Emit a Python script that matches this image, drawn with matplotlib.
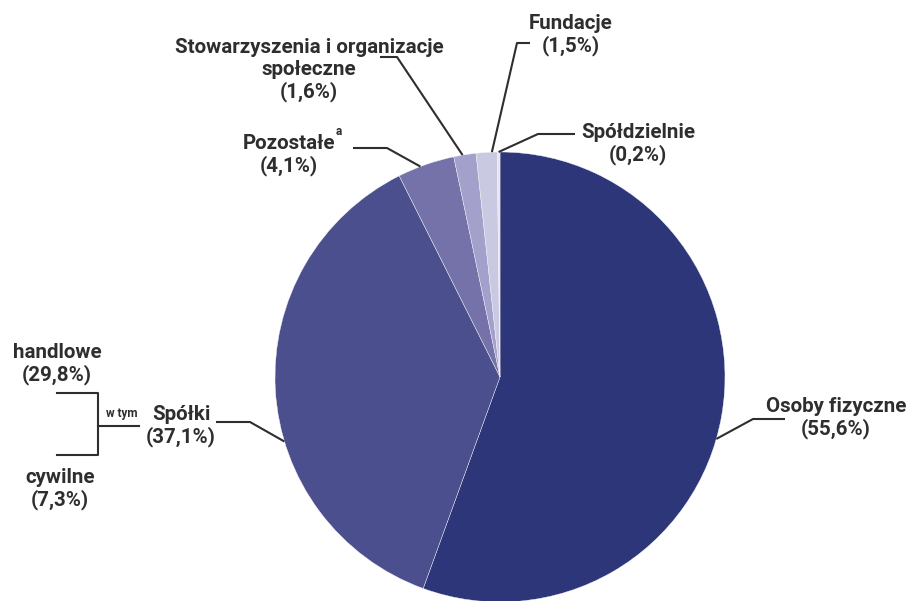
import numpy as np
import matplotlib
matplotlib.use("Agg")
import matplotlib.pyplot as plt

# Structure of entities (share, %)
labels = ["Osoby fizyczne", "Spółki", "Pozostałe", "Stowarzyszenia i organizacje\nspołeczne",
          "Fundacje", "Spółdzielnie"]
shares = [55.6, 37.1, 4.1, 1.6, 1.5, 0.2]
pct_text = ["(55,6%)", "(37,1%)", "(4,1%)", "(1,6%)", "(1,5%)", "(0,2%)"]
colors = ["#2c3679", "#4b4f8e", "#7472a8", "#a3a1cb", "#c9c9e2", "#e6e6ef"]

# Spółki breakdown ("w tym")
sub_labels = ["handlowe", "cywilne"]
sub_pct = ["(29,8%)", "(7,3%)"]

W, H = 912, 601
TXT = "#2e2e2e"
FONT = "Roboto"
FS = 14.8


def py(y):
    # pixel row (from top) -> data y
    return H - y


fig = plt.figure(figsize=(W / 100, H / 100), dpi=100)
ax = fig.add_axes([0, 0, 1, 1])

cx, cy, R = 500, py(377), 225
wedges, _ = ax.pie(shares, colors=colors, startangle=90, counterclock=False,
                   center=(cx, cy), radius=R,
                   wedgeprops=dict(linewidth=0.3, edgecolor="#f4f4f8"))
ax.set_xlim(0, W)
ax.set_ylim(0, H)
ax.set_aspect("equal")
ax.axis("off")

# label block centre, elbow points of the leader line, fraction along wedge for anchor
label_pos = [(836, 418), (181, 426), (289, 155), (309, 70), (571, 35), (638, 144)]
elbows = [
    [(785, 419), (753, 419)],
    [(216, 422), (250, 422)],
    [(353, 148), (387, 148)],
    [(380, 57), (397, 57)],
    [(530, 43), (517, 43)],
    [(575, 134), (538, 134)],
]
anchor_frac = [0.53, 0.40, 0.40, 0.40, 0.75, 0.5]

for i, w in enumerate(wedges):
    t1, t2 = w.theta1, w.theta2
    ang = np.deg2rad(t2 - anchor_frac[i] * (t2 - t1))
    ex, ey = cx + R * np.cos(ang), cy + R * np.sin(ang)
    xs = [p[0] for p in elbows[i]] + [ex]
    ys = [py(p[1]) for p in elbows[i]] + [ey]
    ax.plot(xs, ys, color=TXT, lw=1.5, solid_capstyle="butt", zorder=1)
    lx, ly = label_pos[i]
    ax.text(lx, py(ly), labels[i] + "\n" + pct_text[i], ha="center", va="center",
            fontsize=FS, fontweight="bold", color=TXT, family=FONT,
            linespacing=1.2)

# footnote marker on "Pozostałe"
ax.text(339, py(131), "a", fontsize=8.5, fontweight="bold", color=TXT, family=FONT,
        ha="center", va="center")

# Spółki breakdown bracket
ax.plot([57, 98, 98, 57], [py(393), py(393), py(455), py(455)], color=TXT, lw=1.5)
ax.plot([98, 139], [py(426), py(426)], color=TXT, lw=1.5)
ax.text(122, py(413), "w tym", fontsize=8.5, fontweight="bold", color=TXT, family=FONT,
        ha="center", va="center")
ax.text(57, py(364), sub_labels[0] + "\n" + sub_pct[0], ha="center", va="center",
        fontsize=FS, fontweight="bold", color=TXT, family=FONT, linespacing=1.2)
ax.text(60, py(489), sub_labels[1] + "\n" + sub_pct[1], ha="center", va="center",
        fontsize=FS, fontweight="bold", color=TXT, family=FONT, linespacing=1.2)

fig.savefig("out.png", dpi=100, facecolor="white")
